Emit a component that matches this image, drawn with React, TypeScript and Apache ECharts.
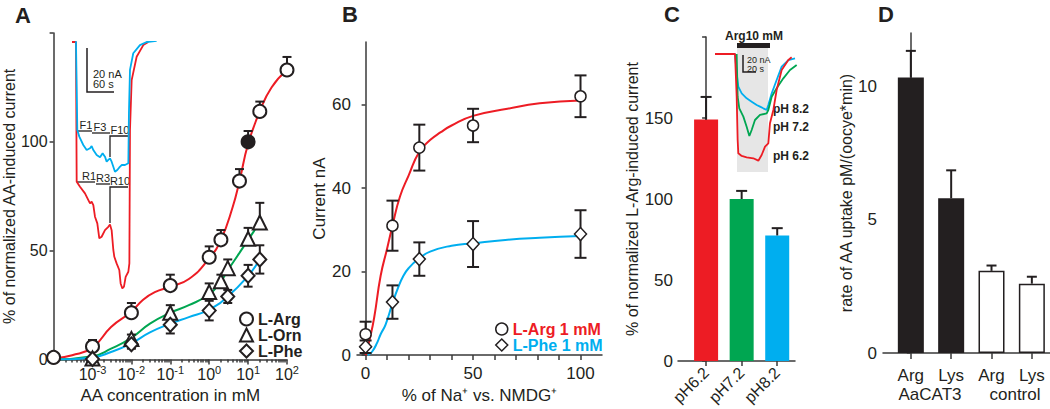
import React, { useEffect, useRef } from 'react';
import * as echarts from 'echarts';

const RED = '#ed1c24';
const GREEN = '#00a651';
const BLUE = '#00aeef';
const INK = '#231f20';
const AXIS = '#3a3a3a';
const FONT = '"Liberation Sans", Arial, Helvetica, sans-serif';

// ---------- Panel A: concentration response (log x) ----------
const argConc = [1e-4, 1e-3, 1e-2, 0.1, 1, 2, 6, 10, 20, 100];
const argVal = [1, 6, 21.5, 34, 47, 55, 82, 100, 114, 133];
const argErr = [0, 3, 4.5, 5, 5, 4.5, 5.5, 5, 4.5, 6];
const ornConc = [1e-3, 1e-2, 0.1, 1, 2, 3, 10, 20];
const ornVal = [0.5, 9.5, 21.5, 31, 36, 42, 55.5, 63];
const ornErr = [0, 2, 3.5, 4, 3, 4, 5, 9];
const pheConc = [1e-3, 1e-2, 0.1, 1, 3, 10, 20];
const pheVal = [0.3, 7, 16, 22.5, 29, 38.5, 46];
const pheErr = [0, 2, 4, 4.5, 3, 5, 6.5];
const argFitX = [1e-4, 3e-4, 1e-3, 3e-3, 1e-2, 2e-2, 4e-2, 0.1, 0.3, 1, 2, 4, 6, 10, 20, 40, 100];
const argFitY = [0.5, 2, 5.5, 15, 22, 27.5, 31, 33.5, 37, 46.5, 55, 70, 82, 99, 114, 125, 133];
const ornFitX = [1e-4, 1e-3, 3e-3, 1e-2, 3e-2, 0.1, 0.3, 1, 2, 3, 6, 10, 20];
const ornFitY = [0, 1.5, 5, 10, 16.5, 21.5, 25, 30, 36, 41, 49, 55, 63];
const pheFitX = [1e-4, 1e-3, 3e-3, 1e-2, 3e-2, 0.1, 0.3, 1, 3, 10, 20];
const pheFitY = [0, 1, 3.5, 7.5, 12.5, 16.5, 19.5, 23, 29, 38.5, 46];
const aMajorTicks = [1e-3, 1e-2, 1e-1, 1, 10, 100];
const aMinorTicks: number[] = [];
for (let e = -4; e <= 1; e++) for (let k = 2; k <= 9; k++) aMinorTicks.push(Number((k * Math.pow(10, e)).toPrecision(3)));

// inset A traces: [time s, current nA]
const traceR = [[0, 0], [9.2, 0], [10.8, -63.5], [18.5, -65.8], [30, -68.8], [41.6, -73.3], [45.4, -72.6], [49.3, -74.1], [53.1, -79.4], [58.5, -82.4], [63.1, -89.2], [68.5, -88.5], [76.2, -85.5], [83.9, -84], [87.8, -82.9], [91.6, -85.5], [95.5, -94.5], [97.8, -97.6], [103.1, -100.6], [109.3, -103.6], [112.4, -109.7], [116.3, -112], [120.1, -111.2], [124, -106.7], [130.2, -104.4], [132.6, -100.6], [134, -40], [137.9, -17.3], [149.4, -6.7], [164.8, -1.4], [176.3, 0]];
const traceF = [[9.2, 0.3], [12.3, -40], [16.9, -43], [26.1, -46.8], [33.9, -49.1], [41.6, -48.3], [45.4, -47.3], [49.3, -49.1], [57, -51.4], [64.7, -52.4], [70.8, -50.6], [76.2, -52.1], [80.1, -54.4], [83.9, -53.6], [87.8, -52.9], [91.6, -54.4], [95.5, -56.7], [99.3, -59], [104.7, -58.2], [109.3, -57], [114.7, -55.9], [122.4, -55.9], [130.2, -55.1], [131.6, -32.4], [134, -12.7], [141.6, -5.1], [157, -1.4], [172.5, 0], [195.6, 0.5]];

// ---------- Panel B: Na dependence ----------
const naPct = [0, 12.5, 25, 50, 100];
const bArgVal = [5, 31, 49.7, 55, 62];
const bArgErr = [3, 6, 5.5, 4, 5];
const bPheVal = [2, 12.7, 23, 26.6, 29];
const bPheErr = [1.5, 4, 4, 5.5, 5.7];
const bArgFitX = [0, 2, 4, 7, 10, 12.5, 16, 20, 25, 30, 35, 40, 50, 66, 81, 100];
const bArgFitY = [0, 4, 9, 19, 25.5, 31, 38, 43, 48.7, 51.5, 53.4, 55, 57.3, 59, 60.3, 61];
const bPheFitX = [1, 3, 5.4, 7, 9.3, 12.5, 15, 17.6, 20, 24.5, 30, 40, 50, 65, 81, 100];
const bPheFitY = [0, 0.8, 3, 5, 7.3, 12.4, 16, 19, 20.8, 23, 24.8, 26.2, 26.8, 27.6, 28.1, 28.5];

// ---------- Panel C: pH dependence ----------
const phCats = ['pH6.2', 'pH7.2', 'pH8.2'];
const phVal = [149, 100, 77.5];
const phErr = [14, 5, 4.5];
const phColors = [RED, GREEN, BLUE];
// inset C traces: [time s, current nA]
const tracePh62 = [[0, 0], [26.7, 0], [28.9, -61], [30.2, -122.9], [31.1, -141.9], [35.6, -145.7], [42.2, -147.6], [51.1, -149], [57.8, -152.4], [62.2, -144.3], [66.7, -132.4], [71.1, -127.6], [73.3, -99], [77.8, -80], [82.2, -51.4], [88.9, -22.9], [97.8, -8.6], [102.2, -4.7]];
const tracePh72 = [[28.9, 0], [30.2, -61], [32.4, -77.6], [37.8, -89.5], [42.2, -103.8], [45.8, -117.1], [48.9, -108.6], [53.3, -94.3], [60, -87.1], [68.9, -84.8], [71.1, -80], [75.6, -61], [82.2, -49], [91.1, -34.8], [100, -22.9], [108.9, -15.7]];
const tracePh82 = [[4.4, 0.5], [26.7, 0], [28.9, -27.6], [31.1, -46.7], [35.6, -56.2], [42.2, -63.3], [48.9, -68.1], [55.6, -72.9], [60, -75.2], [64.4, -77.6], [68.9, -80], [71.1, -72.9], [75.6, -56.2], [82.2, -37.1], [88.9, -18.1], [97.8, -8.6], [106.7, -6.2]];

// ---------- Panel D: uptake ----------
const dCats = ['Arg', 'Lys', 'Arg', 'Lys'];
const dGroups = ['AaCAT3', 'control'];
const dVal = [10.33, 5.8, 3.08, 2.6];
const dErr = [1.0, 1.05, 0.2, 0.26];
const dFill = [INK, INK, '#ffffff', '#ffffff'];

function errSeries(xi: number, yi: number, xs: number[], ys: number[], es: number[], both: boolean, cap: number) {
  const data: number[][] = [];
  xs.forEach((x, i) => {
    if (es[i] > 0) data.push([x, both ? ys[i] - es[i] : ys[i], ys[i] + es[i], both ? 1 : 0]);
  });
  return {
    type: 'custom', xAxisIndex: xi, yAxisIndex: yi, z: 3, silent: true,
    encode: { x: 0, y: [1, 2] }, data,
    renderItem: (_p: any, api: any) => {
      const x = api.value(0);
      const a = api.coord([x, api.value(1)]);
      const b = api.coord([x, api.value(2)]);
      const h = cap / 2;
      const st = { stroke: INK, lineWidth: 2 };
      const ch: any[] = [
        { type: 'line', shape: { x1: a[0], y1: a[1], x2: b[0], y2: b[1] }, style: st },
        { type: 'line', shape: { x1: b[0] - h, y1: b[1], x2: b[0] + h, y2: b[1] }, style: st },
      ];
      if (api.value(3)) ch.push({ type: 'line', shape: { x1: a[0] - h, y1: a[1], x2: a[0] + h, y2: a[1] }, style: st });
      return { type: 'group', children: ch };
    },
  };
}

const zip = (xs: number[], ys: number[]) => xs.map((x, i) => [x, ys[i]]);
const markerStyle = { color: '#ffffff', borderColor: INK, borderWidth: 2, opacity: 1 };

function fitLine(xi: number, yi: number, data: number[][], color: string) {
  return { type: 'line', xAxisIndex: xi, yAxisIndex: yi, data, smooth: 0.5, showSymbol: false, silent: true, z: 2, lineStyle: { color, width: 2 } };
}
function traceLine(xi: number, yi: number, data: number[][], color: string) {
  return { type: 'line', xAxisIndex: xi, yAxisIndex: yi, data, showSymbol: false, silent: true, z: 2, lineStyle: { color, width: 1.8 } };
}

const axisLine = { show: true, lineStyle: { color: AXIS, width: 1.5 } };
const tick = (vals: number[], len = 5) => ({ show: true, length: len, lineStyle: { color: AXIS, width: 1.5 }, customValues: vals });
const hidden = { show: false };

export default function App() {
  const ref = useRef<HTMLDivElement>(null);
  useEffect(() => {
    const chart = echarts.init(ref.current!, null, { renderer: 'svg' });
    const option: any = {
      animation: false,
      textStyle: { fontFamily: FONT, color: INK },
      grid: [
        { left: 47, top: 33, width: 240, height: 328 },
        { left: 72, top: 42, width: 90, height: 250 },
        { left: 357, top: 42, width: 245, height: 319 },
        { left: 678, top: 37, width: 117, height: 324 },
        { left: 715, top: 54, width: 90, height: 126 },
        { left: 883, top: 33, width: 167, height: 320 },
      ],
      xAxis: [
        {
          gridIndex: 0, type: 'log', logBase: 10, min: 1e-4, max: 100, position: 'bottom',
          axisLine, axisTick: tick(aMajorTicks, 5), splitLine: hidden,
          axisLabel: {
            customValues: aMajorTicks, margin: 5, color: INK,
            formatter: (v: number) => `{b|10}{s|${Math.round(Math.log10(v))}}`,
            rich: { b: { fontSize: 16, color: INK, fontFamily: FONT }, s: { fontSize: 11, color: INK, fontFamily: FONT, padding: [0, 0, 8, 0] } },
          },
          name: 'AA concentration in mM', nameLocation: 'middle', nameGap: 22,
          nameTextStyle: { fontSize: 17, color: INK },
        },
        {
          gridIndex: 0, type: 'log', logBase: 10, min: 1e-4, max: 100, position: 'bottom',
          axisLine: hidden, axisLabel: hidden, splitLine: hidden, axisTick: tick(aMinorTicks, 3),
        },
        { gridIndex: 1, type: 'value', min: 0, max: 208, show: false },
        {
          gridIndex: 2, type: 'value', min: -4, max: 110, axisLine, splitLine: hidden,
          axisTick: tick([0, 10, 20, 30, 40, 50, 60, 70, 80, 90, 100], 5),
          axisLabel: { customValues: [0, 50, 100], fontSize: 17, color: INK, margin: 10 },
          name: '% of Na\u207A vs. NMDG\u207A', nameLocation: 'middle', nameGap: 24,
          nameTextStyle: { fontSize: 17, color: INK },
        },
        {
          gridIndex: 3, type: 'value', min: -0.79, max: 2.5, axisLine, splitLine: hidden,
          axisTick: tick([0, 1, 2], 5),
          axisLabel: { customValues: [0, 1, 2], fontSize: 16, color: INK, rotate: 45, margin: 9, formatter: (v: number) => phCats[Math.round(v)] },
        },
        { gridIndex: 4, type: 'value', min: 0, max: 120, show: false },
        {
          gridIndex: 5, type: 'value', min: -0.69, max: 3.45, axisLine, splitLine: hidden,
          axisTick: tick([0, 1, 2, 3], 6),
          axisLabel: { customValues: [0, 1, 2, 3], fontSize: 17, color: INK, margin: 14, formatter: (v: number) => dCats[Math.round(v)] },
        },
      ],
      yAxis: [
        {
          gridIndex: 0, type: 'value', min: 0, max: 150, axisLine, splitLine: hidden,
          axisTick: tick([0, 50, 100, 150], 4),
          axisLabel: { customValues: [0, 50, 100], fontSize: 16, color: INK, margin: 6 },
          name: '% of normalized AA-induced current', nameLocation: 'middle', nameGap: 28,
          nameTextStyle: { fontSize: 16, color: INK },
        },
        { gridIndex: 1, type: 'value', min: -113.6, max: 0, show: false },
        {
          gridIndex: 2, type: 'value', min: 0, max: 75, axisLine, splitLine: hidden,
          axisTick: tick([0, 20, 40, 60], 4),
          axisLabel: { customValues: [0, 20, 40, 60], fontSize: 17, color: INK, margin: 6 },
          name: 'Current nA', nameLocation: 'middle', nameGap: 27,
          nameTextStyle: { fontSize: 17, color: INK },
        },
        {
          gridIndex: 3, type: 'value', min: 0, max: 200, axisLine, splitLine: hidden,
          axisTick: tick([0, 50, 100, 150, 200], 4),
          axisLabel: { customValues: [0, 50, 100, 150], fontSize: 17, color: INK, margin: 5 },
          name: '% of normalized L-Arg-induced current', nameLocation: 'middle', nameGap: 32,
          nameTextStyle: { fontSize: 16, color: INK },
        },
        { gridIndex: 4, type: 'value', min: -180, max: 0, show: false },
        {
          gridIndex: 5, type: 'value', min: 0, max: 12, axisLine, splitLine: hidden,
          axisTick: tick([0, 5, 10], 4),
          axisLabel: { customValues: [0, 5, 10], fontSize: 17, color: INK, margin: 6 },
          name: 'rate of AA uptake pM/(oocye*min)', nameLocation: 'middle', nameGap: 26,
          nameTextStyle: { fontSize: 16, color: INK },
        },
      ],
      legend: [
        {
          selectedMode: false, orient: 'vertical', left: 234, top: 306, itemWidth: 13, itemHeight: 13, itemGap: 0,
          textStyle: { fontSize: 16, lineHeight: 15, fontWeight: 'bold', color: INK, fontFamily: FONT },
          itemStyle: { opacity: 1 },
          data: [
            { name: 'L-Arg', icon: 'circle', itemStyle: markerStyle },
            { name: 'L-Orn', icon: 'triangle', itemStyle: markerStyle },
            { name: 'L-Phe', icon: 'diamond', itemStyle: markerStyle },
          ],
        },
        {
          selectedMode: false, orient: 'vertical', left: 490, top: 316, itemWidth: 12, itemHeight: 12, itemGap: 0,
          textStyle: { fontSize: 16, lineHeight: 15, fontWeight: 'bold', fontFamily: FONT },
          itemStyle: { opacity: 1 },
          data: [
            { name: 'L-Arg 1 mM', icon: 'circle', itemStyle: { ...markerStyle, borderWidth: 1.5 }, textStyle: { color: RED } },
            { name: 'L-Phe 1 mM', icon: 'diamond', itemStyle: { ...markerStyle, borderWidth: 1.5 }, textStyle: { color: BLUE } },
          ],
        },
      ],
      series: [
        // Panel A
        fitLine(0, 0, zip(argFitX, argFitY), RED),
        fitLine(0, 0, zip(ornFitX, ornFitY), GREEN),
        fitLine(0, 0, zip(pheFitX, pheFitY), BLUE),
        errSeries(0, 0, argConc, argVal, argErr, false, 9),
        errSeries(0, 0, ornConc, ornVal, ornErr, false, 9),
        errSeries(0, 0, pheConc, pheVal, pheErr, true, 9),
        {
          name: 'L-Arg', type: 'scatter', xAxisIndex: 0, yAxisIndex: 0, z: 4, symbol: 'circle', symbolSize: 13,
          itemStyle: markerStyle,
          data: argConc.map((c, i) => (c === 10 ? { value: [c, argVal[i]], itemStyle: { color: INK } } : [c, argVal[i]])),
        },
        { name: 'L-Orn', type: 'scatter', xAxisIndex: 0, yAxisIndex: 0, z: 4, symbol: 'triangle', symbolSize: 14, itemStyle: markerStyle, data: zip(ornConc, ornVal) },
        { name: 'L-Phe', type: 'scatter', xAxisIndex: 0, yAxisIndex: 0, z: 4, symbol: 'diamond', symbolSize: [13, 14], itemStyle: markerStyle, data: zip(pheConc, pheVal) },
        // inset A
        traceLine(2, 1, traceR, RED),
        traceLine(2, 1, traceF, BLUE),
        // Panel B
        fitLine(3, 2, zip(bArgFitX, bArgFitY), RED),
        fitLine(3, 2, zip(bPheFitX, bPheFitY), BLUE),
        errSeries(3, 2, naPct, bArgVal, bArgErr, true, 12),
        errSeries(3, 2, naPct, bPheVal, bPheErr, true, 12),
        { name: 'L-Arg 1 mM', type: 'scatter', xAxisIndex: 3, yAxisIndex: 2, z: 4, symbol: 'circle', symbolSize: 11, itemStyle: { ...markerStyle, borderWidth: 1.5 }, data: zip(naPct, bArgVal) },
        { name: 'L-Phe 1 mM', type: 'scatter', xAxisIndex: 3, yAxisIndex: 2, z: 4, symbol: 'diamond', symbolSize: [12, 13], itemStyle: { ...markerStyle, borderWidth: 1.5 }, data: zip(naPct, bPheVal) },
        // Panel C
        {
          type: 'bar', xAxisIndex: 4, yAxisIndex: 3, barWidth: 24, z: 2,
          data: phVal.map((v, i) => ({ value: [i, v], itemStyle: { color: phColors[i] } })),
        },
        errSeries(4, 3, phCats.map((_, i) => i), phVal, phErr, false, 11),
        traceLine(5, 4, tracePh82, BLUE),
        traceLine(5, 4, tracePh72, GREEN),
        traceLine(5, 4, tracePh62, RED),
        // Panel D
        {
          type: 'bar', xAxisIndex: 6, yAxisIndex: 5, barWidth: 26, z: 2,
          data: dVal.map((v, i) => ({ value: [i, v], itemStyle: { color: dFill[i], borderColor: INK, borderWidth: 1.5 } })),
        },
        errSeries(6, 5, dCats.map((_, i) => i), dVal, dErr, false, 10),
      ],
      graphic: [
        // panel letters
        { type: 'text', x: 23, y: 15, style: { text: 'A', font: `bold 22px ${FONT}`, fill: INK, align: 'center', verticalAlign: 'middle' } },
        { type: 'text', x: 350, y: 14, style: { text: 'B', font: `bold 22px ${FONT}`, fill: INK, align: 'center', verticalAlign: 'middle' } },
        { type: 'text', x: 672, y: 14, style: { text: 'C', font: `bold 22px ${FONT}`, fill: INK, align: 'center', verticalAlign: 'middle' } },
        { type: 'text', x: 886, y: 14, style: { text: 'D', font: `bold 22px ${FONT}`, fill: INK, align: 'center', verticalAlign: 'middle' } },
        // inset A scale bar
        { type: 'polyline', shape: { points: [[87, 48], [87, 92], [114, 92]] }, style: { stroke: INK, lineWidth: 1.5, fill: 'none' } },
        { type: 'text', x: 93, y: 74, style: { text: '20 nA', font: `11px ${FONT}`, fill: INK, verticalAlign: 'middle' } },
        { type: 'text', x: 93, y: 84, style: { text: '60 s', font: `11px ${FONT}`, fill: INK, verticalAlign: 'middle' } },
        // inset A step markers
        { type: 'polyline', shape: { points: [[77, 131], [92, 131]] }, style: { stroke: INK, lineWidth: 1.3 } },
        { type: 'polyline', shape: { points: [[92, 133], [110, 133]] }, style: { stroke: INK, lineWidth: 1.3 } },
        { type: 'polyline', shape: { points: [[110, 157], [110, 136], [128, 136]] }, style: { stroke: INK, lineWidth: 1.3, fill: 'none' } },
        { type: 'polyline', shape: { points: [[77, 182], [95, 182]] }, style: { stroke: INK, lineWidth: 1.3 } },
        { type: 'polyline', shape: { points: [[96, 184], [110, 184]] }, style: { stroke: INK, lineWidth: 1.3 } },
        { type: 'polyline', shape: { points: [[110, 223], [110, 187], [128, 187]] }, style: { stroke: INK, lineWidth: 1.3, fill: 'none' } },
        { type: 'text', x: 86, y: 130, style: { text: 'F1', font: `11px ${FONT}`, fill: INK, align: 'center', verticalAlign: 'bottom' } },
        { type: 'text', x: 100, y: 132, style: { text: 'F3', font: `11px ${FONT}`, fill: INK, align: 'center', verticalAlign: 'bottom' } },
        { type: 'text', x: 120, y: 135, style: { text: 'F10', font: `11px ${FONT}`, fill: INK, align: 'center', verticalAlign: 'bottom' } },
        { type: 'text', x: 89, y: 181, style: { text: 'R1', font: `11px ${FONT}`, fill: INK, align: 'center', verticalAlign: 'bottom' } },
        { type: 'text', x: 103, y: 183, style: { text: 'R3', font: `11px ${FONT}`, fill: INK, align: 'center', verticalAlign: 'bottom' } },
        { type: 'text', x: 120, y: 186, style: { text: 'R10', font: `11px ${FONT}`, fill: INK, align: 'center', verticalAlign: 'bottom' } },
        // inset C
        { type: 'rect', z: 0, shape: { x: 737, y: 47, width: 31, height: 125 }, style: { fill: '#e6e6e6' } },
        { type: 'rect', shape: { x: 737, y: 43, width: 33, height: 5 }, style: { fill: INK } },
        { type: 'text', x: 754, y: 36, style: { text: 'Arg10 mM', font: `bold 12px ${FONT}`, fill: INK, align: 'center', verticalAlign: 'middle' } },
        { type: 'polyline', z: 5, shape: { points: [[743, 55], [743, 72], [756, 72]] }, style: { stroke: INK, lineWidth: 1.5, fill: 'none' } },
        { type: 'text', z: 5, x: 747, y: 59.5, style: { text: '20 nA', font: `9px ${FONT}`, fill: INK, verticalAlign: 'middle' } },
        { type: 'text', z: 5, x: 747, y: 68.5, style: { text: '20 s', font: `9px ${FONT}`, fill: INK, verticalAlign: 'middle' } },
        { type: 'text', x: 773, y: 109, style: { text: 'pH 8.2', font: `bold 12px ${FONT}`, fill: INK, verticalAlign: 'middle' } },
        { type: 'text', x: 773, y: 127, style: { text: 'pH 7.2', font: `bold 12px ${FONT}`, fill: INK, verticalAlign: 'middle' } },
        { type: 'text', x: 773, y: 156, style: { text: 'pH 6.2', font: `bold 12px ${FONT}`, fill: INK, verticalAlign: 'middle' } },
        // Panel D group labels
        { type: 'text', x: 930, y: 394, style: { text: dGroups[0], font: `17px ${FONT}`, fill: INK, align: 'center', verticalAlign: 'middle' } },
        { type: 'text', x: 1015, y: 394, style: { text: dGroups[1], font: `17px ${FONT}`, fill: INK, align: 'center', verticalAlign: 'middle' } },
      ],
    };
    chart.setOption(option);
    return () => chart.dispose();
  }, []);
  return <div ref={ref} style={{ position: 'absolute', left: 0, top: 0, width: 1050, height: 409, background: '#fff' }} />;
}
